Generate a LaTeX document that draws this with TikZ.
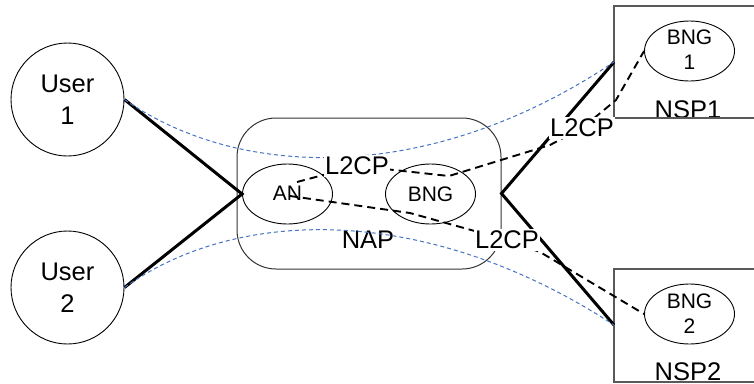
\documentclass[tikz,border=0pt]{standalone}
\usepackage{fontspec}
\setmainfont{Liberation Sans}
\usetikzlibrary{shapes.geometric}
\definecolor{linkblue}{RGB}{68,114,196}
\begin{document}
\begin{tikzpicture}[x=1pt,y=-1pt,
  big/.style={font=\fontsize{25.5}{32}\selectfont},
  small/.style={font=\fontsize{21}{25}\selectfont},
  usercircle/.style={circle,draw,line width=0.9pt,minimum size=113pt,inner sep=0pt,align=center,big},
  oval/.style={ellipse,draw,line width=0.9pt,minimum width=90pt,minimum height=60pt,inner sep=0pt},
  ovaltext/.style={align=center,small,inner sep=0pt},
  boxline/.style={draw=black!65,line width=1.3pt},
  napbox/.style={rectangle,rounded corners=39pt,draw=black!80,line width=1pt,minimum width=264pt,minimum height=151pt},
  thickline/.style={line width=3pt},
  ctrl/.style={line width=1.9pt,dash pattern=on 8pt off 5pt},
  bluelink/.style={draw=linkblue,line width=1pt,dash pattern=on 4pt off 3pt},
  tag/.style={big,fill=white,inner sep=1.5pt},
]
\useasboundingbox (0,0) rectangle (754,383);

% NAP
\node[napbox] (nap) at (369,193.5) {};
\node[big] (naplabel) at (368,240) {NAP};

% users
\node[usercircle] (u1) at (67.5,99.5) {User\\1};
\node[usercircle] (u2) at (67.5,287.5) {User\\2};

% ovals
\node[oval] (an) at (287.5,194) {};
\node[ovaltext] (antext) at (287.5,193.5) {AN};
\node[oval] (bng) at (430.5,194) {};
\node[ovaltext] (bngtext) at (430.5,194) {BNG};
\node[oval] (bng1) at (689.5,51) {};
\node[ovaltext] (bng1text) at (689.5,50) {BNG\\1};
\node[oval] (bng2) at (689.5,314) {};
\node[ovaltext] (bng2text) at (689.5,313.5) {BNG\\2};

% NSP boxes
\node[big,anchor=base,inner sep=0pt] (nsp1label) at (688,118.5) {NSP1};
\node[big,anchor=base,inner sep=0pt] (nsp2label) at (688,380.5) {NSP2};
\draw[boxline] (756,6) -- (614,6) -- (614,118) -- (756,118);
\draw[boxline] (756,269) -- (614,269) -- (614,382) -- (756,382);

\coordinate (nsp1L) at (614,62);
\coordinate (nsp2L) at (614,325);

% thick links
\draw[thickline] (u1.east) -- (an.west) -- (u2.east);
\draw[thickline] (nsp1L) -- (nap.east) -- (nsp2L);

% blue dashed paths
\draw[bluelink] (u1.east) .. controls (240,180) and (430,185) .. (nsp1L);
\draw[bluelink] (u2.east) .. controls (240,205) and (430,205) .. (nsp2L);

% L2CP control paths
\coordinate (a1) at (297,182);
\coordinate (t1) at (357,166);
\coordinate (b1) at (449,176);
\coordinate (b2) at (550,145);
\coordinate (t2) at (582,128);
\coordinate (b3) at (604,110);
\coordinate (b4) at (616,100);
\draw[ctrl] (a1) -- (t1) -- (b1) -- (b2) -- (t2) -- (b3) -- (b4) -- (bng1.west);

\coordinate (a2) at (290,196);
\coordinate (c1) at (410,213);
\coordinate (t3) at (507,240);
\coordinate (c2) at (540,252);
\draw[ctrl] (a2) -- (c1) -- (t3) -- (c2) -- (bng2.west);

% labels
\node[tag] (l2cpA) at (t1) {L2CP};
\node[tag] (l2cpB) at (t2) {L2CP};
\node[tag] (l2cpC) at (t3) {L2CP};
\end{tikzpicture}
\end{document}
